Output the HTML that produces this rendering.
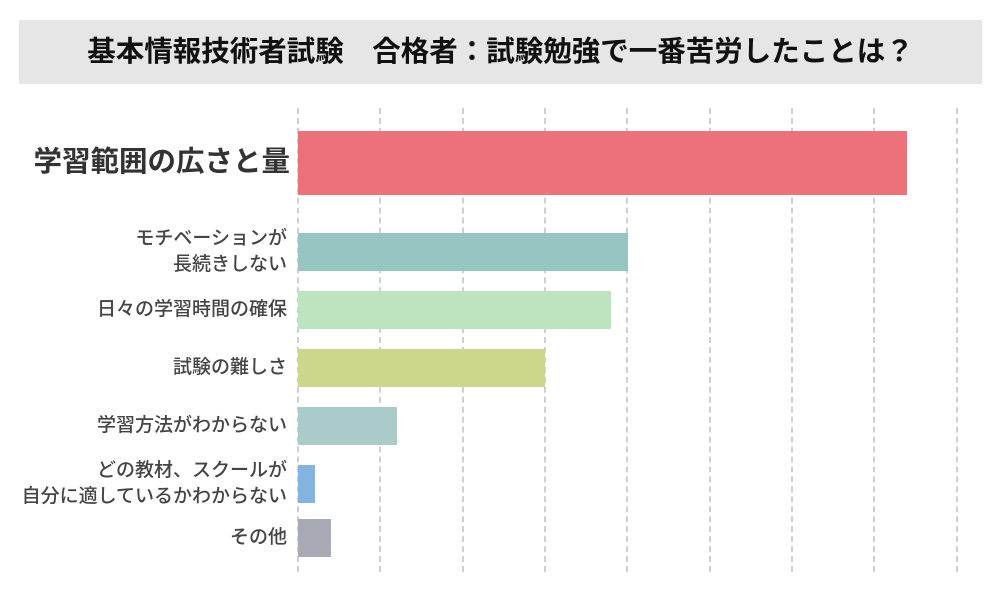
<!DOCTYPE html>
<html><head><meta charset="utf-8"><style>
body{margin:0;width:1001px;height:591px;background:#fff;position:relative;overflow:hidden;font-family:"Liberation Sans","Noto Sans CJK JP",sans-serif}
.t{position:absolute;left:19px;top:20px;width:963px;height:64px;background:#e6e6e6;font-weight:bold;font-size:28.5px;line-height:64px;text-align:center;color:#111;white-space:nowrap}
.g{position:absolute;top:108px;height:464px;width:0;border-left:2px dashed #d0d0d0;z-index:0}
.b{position:absolute;left:298px;z-index:1}
.l{position:absolute;right:714px;text-align:right;color:#444;font-size:19px;line-height:26px;font-weight:500;white-space:nowrap}
</style></head><body>
<div class="t">基本情報技術者試験　合格者：試験勉強で一番苦労したことは？</div>
<div class="g" style="left:297px"></div><div class="g" style="left:379px"></div><div class="g" style="left:462px"></div><div class="g" style="left:544px"></div><div class="g" style="left:626px"></div><div class="g" style="left:709px"></div><div class="g" style="left:791px"></div><div class="g" style="left:873px"></div><div class="g" style="left:956px"></div>
<div class="b" style="top:131px;height:64px;width:609px;background:#ec717a"></div>
<div class="b" style="top:233px;height:38px;width:330px;background:#97c5c1"></div>
<div class="b" style="top:291px;height:38px;width:313px;background:#bde3bf"></div>
<div class="b" style="top:349px;height:38px;width:247px;background:#cdd78b"></div>
<div class="b" style="top:407px;height:38px;width:99px;background:#abcbcb"></div>
<div class="b" style="top:465px;height:38px;width:17px;background:#83b3e0"></div>
<div class="b" style="top:519px;height:38px;width:33px;background:#a8aab5"></div>
<div class="l" style="top:143px;right:711px;font-size:28.5px;line-height:38px;font-weight:bold;color:#333">学習範囲の広さと量</div>
<div class="l" style="top:226px">モチベーションが<br>長続きしない</div>
<div class="l" style="top:297px">日々の学習時間の確保</div>
<div class="l" style="top:355px">試験の難しさ</div>
<div class="l" style="top:413px">学習方法がわからない</div>
<div class="l" style="top:458px">どの教材、スクールが<br>自分に適しているかわからない</div>
<div class="l" style="top:525px">その他</div>
</body></html>
